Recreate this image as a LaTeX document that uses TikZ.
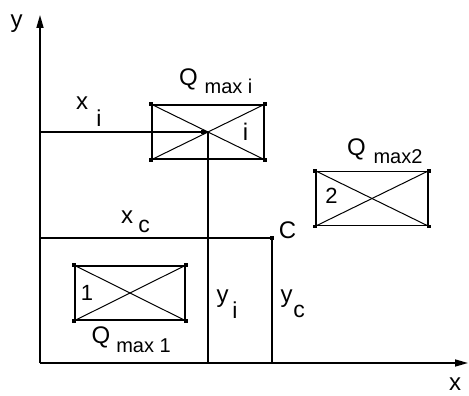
\documentclass[tikz,border=0pt]{standalone}
\usepackage{fontspec}
\setmainfont{Liberation Sans}
\usetikzlibrary{arrows.meta}
\begin{document}
\begin{tikzpicture}[x=1pt,y=-1pt,
  axis/.style={line width=1.6pt},
  ln/.style={line width=1.6pt},
  crossbox/.style={draw,line width=1.6pt,minimum width=112pt,minimum height=54pt,inner sep=0pt},
  diag/.style={line width=1pt},
  lbl/.style={inner sep=0pt,anchor=base,font=\fontsize{24}{28}\selectfont},
  sublbl/.style={inner sep=0pt,anchor=base,font=\fontsize{23}{27}\selectfont},
  maxlbl/.style={inner sep=0pt,anchor=base,font=\fontsize{20}{24}\selectfont},
  dig/.style={inner sep=0pt,anchor=base,font=\fontsize{22}{26}\selectfont},
  arr/.style={-{Triangle[length=13pt,width=7pt]}}
]
\useasboundingbox (0,0) rectangle (469,396);
% axes
\coordinate (O) at (40,363);
\coordinate (Ytip) at (40,15);
\coordinate (Xtip) at (468,363);
\draw[axis,arr] (O) -- (Ytip);
\draw[axis,arr] (O) -- (Xtip);
% boxes
\node[crossbox] (bi) at (208,132) {};
\node[crossbox] (b2) at (372,198.5) {};
\node[crossbox,minimum width=110pt] (b1) at (130,293) {};
\foreach \b in {bi,b2,b1}{
  \draw[diag] (\b.north west) -- (\b.south east);
  \draw[diag] (\b.north east) -- (\b.south west);
  \foreach \a in {north west,north east,south west,south east}
    \fill (\b.\a) +(-1.8,-1.8) rectangle +(1.8,1.8);
}
% x_i / y_i lines
\coordinate (xi0) at (40,132);
\draw[ln] (xi0) -- (bi.center);
\fill (203,132) +(-2.2,-2.2) rectangle +(2.2,2.2);
\draw[ln] (bi.center) -- (bi.center |- O);
% point C
\coordinate (C) at (272,238);
\draw[ln] (C -| O) -- (C) -- (C |- O);
\fill (C) +(-2.4,-2.4) rectangle +(2.4,2.4);
% labels
\node[lbl] (ly) at (16.5,28) {y};
\node[lbl] (lx) at (455,390) {x};
\node[lbl] (lxi) at (82,110) {x};
\node[sublbl] (lxis) at (99,127) {i};
\node[lbl] (lqi) at (188.5,86) {Q};
\node[maxlbl] (lqis) at (228.5,93) {max i};
\node[lbl] (lii) at (245.5,140) {i};
\node[lbl] (lq2) at (356.5,155) {Q};
\node[maxlbl] (lq2s) at (398,163) {max2};
\node[dig] (l2) at (331.5,203) {2};
\node[lbl] (lxc) at (127,223) {x};
\node[sublbl] (lxcs) at (144,232) {c};
\node[lbl] (lC) at (287.5,238) {C};
\node[dig] (l1) at (87,300) {1};
\node[lbl] (lq1) at (101,343) {Q};
\node[maxlbl] (lq1s) at (143.5,352) {max 1};
\node[lbl] (lyi) at (222.5,302) {y};
\node[sublbl] (lyis) at (235,318) {i};
\node[lbl] (lyc) at (286.5,302) {y};
\node[sublbl] (lycs) at (299,317) {c};
\end{tikzpicture}
\end{document}
